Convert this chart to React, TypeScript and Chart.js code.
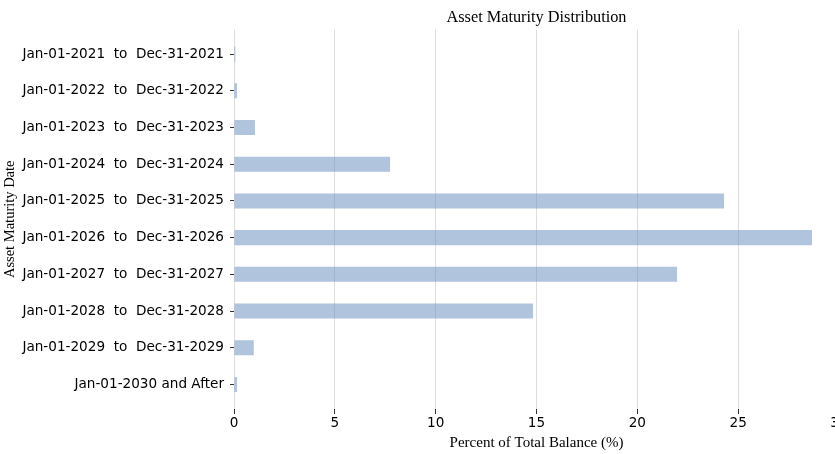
import React, { useEffect, useRef } from "react";
import { Chart, registerables } from "chart.js";

Chart.register(...registerables);

const categories: string[] = [
  "Jan-01-2021  to  Dec-31-2021",
  "Jan-01-2022  to  Dec-31-2022",
  "Jan-01-2023  to  Dec-31-2023",
  "Jan-01-2024  to  Dec-31-2024",
  "Jan-01-2025  to  Dec-31-2025",
  "Jan-01-2026  to  Dec-31-2026",
  "Jan-01-2027  to  Dec-31-2027",
  "Jan-01-2028  to  Dec-31-2028",
  "Jan-01-2029  to  Dec-31-2029",
  "Jan-01-2030 and After",
];

const percentValues: number[] = [0.07, 0.15, 1.04, 7.74, 24.3, 28.66, 21.97, 14.83, 0.98, 0.15];

const xTickValues: number[] = [0, 5, 10, 15, 20, 25, 30];

const chartTitle = "Asset Maturity Distribution";
const xTitle = "Percent of Total Balance (%)";
const yTitle = "Asset Maturity Date";

const CANVAS_W = 850;
const CANVAS_H = 454;

export default function App() {
  const ref = useRef<HTMLCanvasElement | null>(null);

  useEffect(() => {
    if (!ref.current) return;
    const chart = new Chart(ref.current, {
      type: "bar",
      data: {
        datasets: [
          {
            label: "Percent",
            data: percentValues.map((v, i) => ({ x: v, y: i })),
            backgroundColor: "rgba(97,137,189,0.5)",
            borderWidth: 0,
            categoryPercentage: 1,
            barPercentage: 0.41,
          },
        ],
      },
      options: {
        indexAxis: "y",
        animation: false,
        responsive: false,
        devicePixelRatio: 1,
        layout: { padding: { top: 0, right: 11, bottom: 0, left: 0 } },
        plugins: {
          legend: { display: false },
          tooltip: { enabled: false },
          title: {
            display: true,
            text: chartTitle,
            fullSize: false,
            color: "#000",
            font: { family: "'Liberation Serif', 'Times New Roman', serif", size: 16.3, weight: "normal" },
            padding: { top: 8, bottom: 2 },
          },
        },
        scales: {
          x: {
            type: "linear",
            position: "bottom",
            min: 0,
            max: 30,
            afterBuildTicks: (scale: any) => {
              scale.ticks = xTickValues.map((v) => ({ value: v }));
            },
            afterFit: (scale: any) => {
              scale.height = 45;
            },
            border: { display: false },
            grid: {
              color: "#dedede",
              lineWidth: 1,
              drawTicks: true,
              tickLength: 5,
              tickColor: "#333",
              tickWidth: 1,
            },
            ticks: {
              color: "#000",
              padding: 1,
              maxRotation: 0,
              font: { family: "'DejaVu Sans', sans-serif", size: 13.6 },
            },
            title: {
              display: true,
              text: xTitle,
              color: "#000",
              font: { family: "'Liberation Serif', 'Times New Roman', serif", size: 15 },
              padding: { top: 0, bottom: 2 },
            },
          },
          y: {
            type: "linear",
            position: "left",
            offset: false,
            min: -0.67,
            max: 9.67,
            reverse: true,
            afterBuildTicks: (scale: any) => {
              scale.ticks = categories.map((_, i) => ({ value: i }));
            },
            afterFit: (scale: any) => {
              scale.width = 234;
            },
            border: { display: false },
            grid: {
              offset: false,
              drawOnChartArea: false,
              drawTicks: true,
              tickLength: 4,
              tickColor: "#333",
              tickWidth: 1,
            },
            ticks: {
              color: "#000",
              padding: 6,
              autoSkip: false,
              font: { family: "'DejaVu Sans', sans-serif", size: 13.6 },
              callback: (v: any) => categories[Number(v)] ?? "",
            },
            title: {
              display: true,
              text: yTitle,
              color: "#000",
              font: { family: "'Liberation Serif', 'Times New Roman', serif", size: 14.5 },
              padding: { top: 1.5, bottom: 0 },
            },
          },
        },
      },
    } as any);
    return () => chart.destroy();
  }, []);

  return (
    <div
      style={{
        position: "fixed",
        left: 0,
        top: 0,
        width: 835,
        height: CANVAS_H,
        overflow: "hidden",
        background: "#fff",
      }}
    >
      <canvas
        ref={ref}
        width={CANVAS_W}
        height={CANVAS_H}
        style={{ width: CANVAS_W, height: CANVAS_H, display: "block" }}
      />
    </div>
  );
}
